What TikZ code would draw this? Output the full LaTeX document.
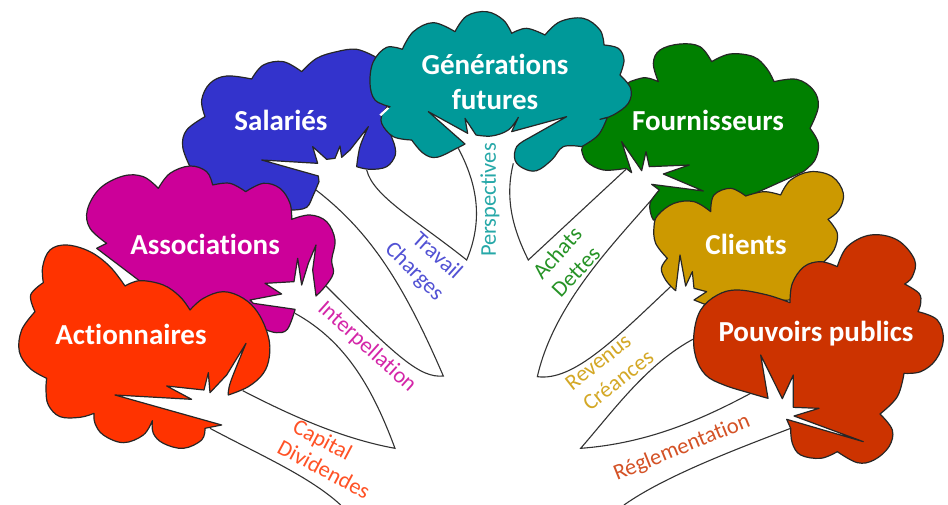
\documentclass[tikz,border=0pt]{standalone}
\usepackage{fontspec}
\setmainfont{Carlito}[RawFeature={-liga;-dlig;-clig}]
\tikzset{
 sm/.style={smooth,tension=.62},
 cloud/.style={draw=black!85,line width=1.2pt,line join=round},
 wedge/.style={draw=black!80,line width=1.1pt},
 head/.style={text=white,font=\bfseries\fontsize{29}{35}\selectfont,align=center,inner sep=0pt},
 tag/.style={font=\fontsize{22.5}{26}\selectfont,inner sep=0pt},
 zA/.style={shift={(0,160)},scale=1/3},
 zB/.style={shift={(474,160)},scale=1/3},
 zC/.style={shift={(170,0)},scale=1/3},
 zD/.style={shift={(570,30)},scale=1/3},
}
\definecolor{cAct}{HTML}{FF3300}
\definecolor{cAss}{HTML}{CC0099}
\definecolor{cSal}{HTML}{3333CC}
\definecolor{cGen}{HTML}{009999}
\definecolor{cFou}{HTML}{008000}
\definecolor{cCli}{HTML}{CC9900}
\definecolor{cPou}{HTML}{CC3300}
\begin{document}
\begin{tikzpicture}[x=1pt,y=-1pt]
\useasboundingbox (0,0) rectangle (948,505);
\fill[white] (0,0) rectangle (948,505);
% wedges
\begin{scope}[zA]
\coordinate (t1) at (1185,865);
\coordinate (t2) at (1330,648);
\coordinate (b1) at (1022,1035);
\draw[wedge] (728,692) .. controls (860,760) and (1020,835) .. (t1) .. controls (1120,690) and (1040,545) .. (885,460);
\draw[wedge] (630,805) .. controls (780,885) and (930,950) .. (b1);
\draw[wedge] (948,90) .. controls (1110,215) and (1210,370) .. (t2) .. controls (1260,655) and (1190,590) .. (978,378);
\end{scope}
\begin{scope}[zC]
\coordinate (t3) at (890,780);
\coordinate (t4) at (1075,780);
\draw[wedge] (590,510) .. controls (610,590) and (740,660) .. (t3) .. controls (945,650) and (915,540) .. (865,445);
\draw[wedge] (1030,490) .. controls (1005,590) and (1025,680) .. (t4) -- (1368,508);
\end{scope}
\begin{scope}[zB]
\coordinate (t5) at (190,650);
\coordinate (t6) at (320,865);
\coordinate (b2) at (450,1035);
\draw[wedge] (545,105) .. controls (420,250) and (240,430) .. (t5) .. controls (300,665) and (430,530) .. (595,375);
\draw[wedge] (662,535) .. controls (520,610) and (420,750) .. (t6) .. controls (520,850) and (680,780) .. (830,700);
\draw[wedge] (950,805) .. controls (780,870) and (570,950) .. (b2);
\end{scope}
% Fournisseurs
\begin{scope}[zD]
\filldraw[cloud,fill=cFou] plot[sm] coordinates {(265,155)(250,100)(270,60)(330,42)(390,50)(425,95)}
 -- plot[sm] coordinates {(425,95)(480,72)(550,80)(590,115)(612,155)}
 -- plot[sm] coordinates {(612,155)(680,148)(730,180)(745,230)(720,295)}
 -- plot[sm] coordinates {(720,295)(745,340)(735,390)(700,425)}
 -- (400,560) -- (250,570)
 -- plot[sm] coordinates {(245,560)(240,520)(268,480)}
 -- (245,463) -- (400,483) -- (280,432) -- (358,405) -- (238,410) -- (228,365) -- (215,422) -- (155,335) -- (185,428)
 -- plot[sm] coordinates {(168,415)(100,420)(50,395)(35,360)}
 -- (60,250) -- (150,180)
 -- plot[sm] coordinates {(180,155)(225,143)(265,155)} -- cycle;
\end{scope}
% Salaries
\begin{scope}[zC]
\filldraw[cloud,fill=cSal] plot[sm] coordinates {(395,215)(440,175)(500,155)(560,148)(615,170)}
 -- (680,250) -- (640,345) -- (672,430)
 -- plot[sm] coordinates {(672,430)(676,465)(650,500)(600,508)(560,500)}
 -- plot[sm] coordinates {(560,500)(570,440)(595,380)}
 -- (540,450) -- (515,472) -- (510,438) -- (495,475) -- (470,478) -- (428,440) -- (443,490) -- (275,480) -- (445,528)
 -- plot[sm] coordinates {(447,545)(430,585)(410,622)(370,630)}
 -- (200,640) -- (60,500)
 -- plot[sm] coordinates {(60,500)(38,440)(50,390)(105,350)}
 -- plot[sm] coordinates {(105,350)(95,300)(120,250)(170,228)(245,237)}
 -- plot[sm] coordinates {(245,237)(280,195)(340,185)(395,215)} -- cycle;
\end{scope}
% Generations
\begin{scope}[zC]
\filldraw[cloud,fill=cGen] plot[sm] coordinates {(855,95)(890,48)(950,35)(1000,60)(1025,100)}
 -- plot[sm] coordinates {(1025,100)(1070,85)(1125,105)}
 -- plot[sm] coordinates {(1125,105)(1170,65)(1240,55)(1290,90)(1302,135)}
 -- plot[sm] coordinates {(1302,135)(1345,145)(1362,180)(1350,225)}
 -- plot[sm] coordinates {(1350,225)(1382,265)(1375,310)(1330,345)(1290,358)}
 -- plot[sm] coordinates {(1312,352)(1285,405)(1235,440)}
 -- plot[sm] coordinates {(1235,440)(1180,440)(1145,480)(1100,512)(1060,505)(1035,480)(1040,440)(1075,415)}
 -- (1190,350) -- (1025,395) -- (1045,352)
 -- plot[sm] coordinates {(1045,352)(1015,390)(965,408)(918,405)}
 -- (885,355) -- (893,400) -- (775,335) -- (885,432)
 -- plot[sm] coordinates {(885,432)(860,445)(800,472)(760,460)(725,420)}
 -- plot[sm] coordinates {(725,420)(670,410)(635,370)(640,335)(660,320)}
 -- plot[sm] coordinates {(660,320)(615,300)(600,250)(610,185)(650,142)(697,148)}
 -- plot[sm] coordinates {(697,148)(730,95)(790,68)(855,95)} -- cycle;
\fill[white] (628,344) -- (652,322) -- (658,325) -- (634,348) -- cycle;
\end{scope}
% Associations
\begin{scope}[zA]
\filldraw[cloud,fill=cAss] plot[sm] coordinates {(475,85)(510,40)(570,18)(620,35)(638,75)}
 -- plot[sm] coordinates {(638,75)(690,70)(737,95)}
 -- plot[sm] coordinates {(737,95)(790,70)(840,85)(870,130)(875,178)}
 -- plot[sm] coordinates {(875,178)(930,165)(980,185)(1005,240)(995,300)(1000,340)(975,380)(948,408)}
 -- (938,330) -- (948,255) -- (925,310) -- (905,375) -- (893,295) -- (882,365) -- (795,370) -- (845,402) -- (750,420)
 -- (760,430) -- (885,448)
 -- plot[sm] coordinates {(885,450)(862,508)(830,518)(800,510)}
 -- (600,500) -- (290,265)
 -- plot[sm] coordinates {(320,250)(270,205)(262,150)(300,85)(370,48)(430,50)(475,85)} -- cycle;
\end{scope}
% Actionnaires
\begin{scope}[zA]
\filldraw[cloud,fill=cAct] plot[sm] coordinates {(375,378)(420,362)(490,375)(540,410)(570,450)}
 -- plot[sm] coordinates {(570,450)(610,415)(670,395)(730,415)(775,460)(805,530)(808,590)(790,640)(745,680)(685,705)}
 -- plot[sm] coordinates {(685,705)(692,665)(738,550)}
 -- (680,645) -- (630,698) -- (625,638) -- (612,690) -- (500,678) -- (575,718) -- (345,705) -- (665,795) -- (615,805)
 -- plot[sm] coordinates {(615,805)(605,840)(550,865)(490,850)(460,820)(457,782)}
 -- plot[sm] coordinates {(457,782)(430,825)(370,848)(310,825)(285,790)(282,760)}
 -- plot[sm] coordinates {(282,760)(240,772)(180,770)(145,735)(138,690)(140,655)}
 -- plot[sm] coordinates {(140,655)(90,625)(58,575)(65,510)(105,455)}
 -- plot[sm] coordinates {(105,455)(92,405)(130,368)}
 -- plot[sm] coordinates {(130,368)(128,320)(150,270)(200,255)(270,275)(330,320)(375,378)} -- cycle;
\end{scope}
% Clients
\begin{scope}[zB]
\filldraw[cloud,fill=cCli] plot[sm] coordinates {(710,155)(720,105)(770,85)(815,108)}
 -- plot[sm] coordinates {(815,108)(870,95)(920,105)}
 -- plot[sm] coordinates {(920,105)(950,60)(1010,35)(1075,50)(1108,100)(1095,150)(1062,178)}
 -- plot[sm] coordinates {(1062,178)(1090,220)(1080,270)(1050,305)}
 -- (950,420) -- (690,432)
 -- (660,420) -- (698,395) -- (660,385) -- (655,335) -- (635,378) -- (618,285) -- (605,392)
 -- plot[sm] coordinates {(600,388)(575,360)(562,325)(580,295)}
 -- plot[sm] coordinates {(580,295)(545,250)(540,200)(552,165)(600,130)(660,125)(710,155)} -- cycle;
\end{scope}
% Pouvoirs publics
\begin{scope}[zB]
\filldraw[cloud,fill=cPou] plot[sm] coordinates {(1090,320)(1120,260)(1190,225)(1270,240)(1322,300)(1315,350)(1292,372)}
 -- plot[sm] coordinates {(1292,372)(1335,400)(1340,430)(1332,455)}
 -- plot[sm] coordinates {(1332,455)(1390,480)(1408,540)(1385,600)(1340,635)(1290,640)}
 -- plot[sm] coordinates {(1290,640)(1270,710)(1218,762)}
 -- plot[sm] coordinates {(1218,762)(1255,810)(1245,860)(1200,900)(1150,908)(1090,875)}
 -- plot[sm] coordinates {(1090,875)(1040,895)(980,885)(955,850)(950,805)}
 -- (938,778) -- (1168,845) -- (960,768) -- (1035,745) -- (958,742) -- (958,645) -- (925,716) -- (860,585) -- (882,715)
 -- plot[sm] coordinates {(882,715)(830,700)(750,675)(695,645)(665,590)(660,520)(680,450)(730,405)(790,390)(880,405)(948,428)}
 -- plot[sm] coordinates {(948,428)(955,370)(990,320)(1040,305)(1090,320)} -- cycle;
\end{scope}
% headings
\node[head] (act) at (131,334) {Actionnaires};
\node[head] (ass) at (205,244) {Associations};
\node[head] (sal) at (281,120) {Salariés};
\node[head] (gen) at (495,82) {Générations\\futures};
\node[head] (fou) at (708,120) {Fournisseurs};
\node[head] (cli) at (746,244) {Clients};
\node[head] (pou) at (816,334) {Pouvoirs publics};
% tags
\node[tag,text=cAct!85!white,rotate=-28] (cap) at (322,441) {Capital};
\node[tag,text=cAct!85!white,rotate=-28] (div) at (324,469) {Dividendes};
\node[tag,text=cAss!85!white,rotate=-42] (int) at (367,347) {Interpellation};
\node[tag,text=cSal!85!white,rotate=-42] (tra) at (438,255) {Travail};
\node[tag,text=cSal!85!white,rotate=-45] (cha) at (414,272) {Charges};
\node[tag,text=cGen!85!white,rotate=90] (per) at (490,200) {Perspectives};
\node[tag,text=cFou!85!white,rotate=48] (ach) at (557,253) {Achats};
\node[tag,text=cFou!85!white,rotate=47] (det) at (576,272) {Dettes};
\node[tag,text=cCli!85!white,rotate=38] (rev) at (598,362) {Revenus};
\node[tag,text=cCli!85!white,rotate=38] (cre) at (618,380) {Créances};
\node[tag,text=cPou!85!white,rotate=22] (reg) at (682,448) {Réglementation};
\end{tikzpicture}
\end{document}
